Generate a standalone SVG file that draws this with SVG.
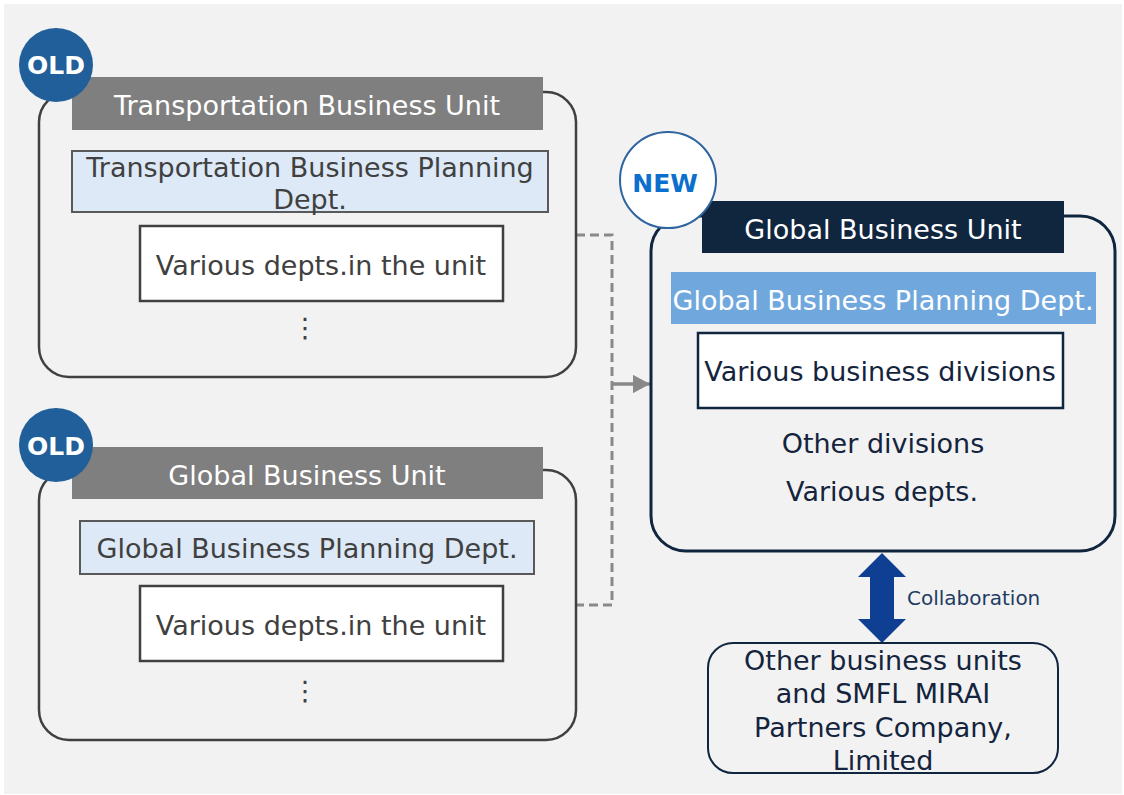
<svg xmlns="http://www.w3.org/2000/svg" width="1124" height="795" viewBox="0 0 1124 795">
<defs>
<style>
text{font-family:"DejaVu Sans","Liberation Sans",sans-serif;text-anchor:middle;dominant-baseline:central}
.t{font-size:27px;fill:#404040}
.w{font-size:27px;fill:#ffffff}
.n{font-size:27px;fill:#14243d}
.unit{fill:none;stroke:#404040;stroke-width:2.5}
.hdr{fill:#7f7f7f}
.plan{fill:#dde9f6;stroke:#595959;stroke-width:2}
.box{fill:#ffffff;stroke:#404040;stroke-width:2.5}
.old{fill:#215f9a}
.oldt{font-size:25px;font-weight:bold;fill:#ffffff}
.dash{fill:none;stroke:#898989;stroke-width:3;stroke-dasharray:9 5}
</style>
<marker id="ah" viewBox="0 0 10 10" refX="10" refY="5" markerWidth="5" markerHeight="5.4" orient="auto" markerUnits="strokeWidth" preserveAspectRatio="none">
<path d="M0,0 L10,5 L0,10 Z" fill="#898989"/>
</marker>
</defs>
<rect x="4" y="4" width="1118" height="790" fill="#f2f2f2"/>

<g id="connectors">
<path class="dash" d="M576,235 H612 V605 H576"/>
<path d="M612,384 H650" fill="none" stroke="#898989" stroke-width="3.5" marker-end="url(#ah)"/>
<path id="collab-arrow" d="M882,553 L906,577 L894,577 L894,619 L906,619 L882,643 L858,619 L870,619 L870,577 L858,577 Z" fill="#0f3f92"/>
<text x="907" y="598" style="font-size:20px;fill:#1f3b63;text-anchor:start">Collaboration</text>
</g>

<g id="old-transport">
<rect class="unit" x="39" y="92" width="537" height="285" rx="30"/>
<rect class="hdr" x="72" y="77" width="471" height="53"/>
<text class="w" x="307" y="105">Transportation Business Unit</text>
<rect class="plan" x="72" y="151" width="476" height="61"/>
<text class="t" x="310" y="167">Transportation Business Planning</text>
<text class="t" x="310" y="199">Dept.</text>
<rect class="box" x="140" y="226" width="363" height="75"/>
<text class="t" x="321" y="265">Various depts.in the unit</text>
<text class="t" x="305" y="327">⋮</text>
<circle class="old" cx="56" cy="65" r="37"/>
<text class="oldt" x="56" y="65">OLD</text>
</g>

<g id="old-global">
<rect class="unit" x="39" y="470" width="537" height="270" rx="30"/>
<rect class="hdr" x="72" y="447" width="471" height="52"/>
<text class="w" x="307" y="475">Global Business Unit</text>
<rect class="plan" x="80" y="521" width="454" height="53"/>
<text class="t" x="307" y="548">Global Business Planning Dept.</text>
<rect class="box" x="140" y="586" width="363" height="75"/>
<text class="t" x="321" y="625">Various depts.in the unit</text>
<text class="t" x="305" y="690">⋮</text>
<circle class="old" cx="56" cy="445" r="37"/>
<text class="oldt" x="56" y="446">OLD</text>
</g>

<g id="new-global">
<rect x="651" y="216" width="464" height="335" rx="35" fill="none" stroke="#10263f" stroke-width="3"/>
<rect x="702" y="201" width="362" height="52" fill="#10263f"/>
<text class="w" x="883" y="229">Global Business Unit</text>
<rect x="671" y="272" width="425" height="52" fill="#70a8de"/>
<text class="w" x="883" y="300">Global Business Planning Dept.</text>
<rect x="698" y="333" width="365" height="75" fill="#ffffff" stroke="#10263f" stroke-width="2.5"/>
<text class="n" x="880" y="371">Various business divisions</text>
<text class="n" x="883" y="443">Other divisions</text>
<text class="n" x="882" y="491">Various depts.</text>
<circle cx="668" cy="180" r="48" fill="#ffffff" stroke="#2e64a0" stroke-width="2"/>
<text x="665" y="183" style="font-size:25px;font-weight:bold;fill:#0b6fce">NEW</text>
</g>

<g id="other-units">
<rect x="708" y="643" width="350" height="130" rx="25" fill="none" stroke="#10263f" stroke-width="2"/>
<text class="n" x="883" y="660">Other business units</text>
<text class="n" x="883" y="693">and SMFL MIRAI</text>
<text class="n" x="883" y="727">Partners Company,</text>
<text class="n" x="883" y="760">Limited</text>
</g>
</svg>
